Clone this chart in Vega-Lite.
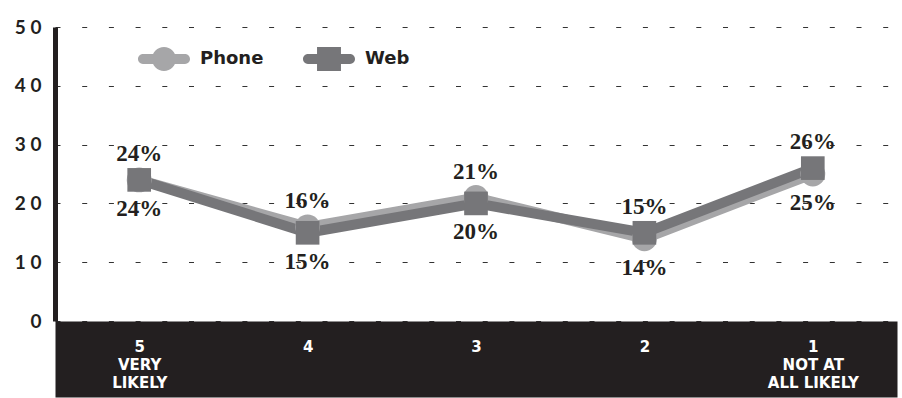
{
  "$schema": "https://vega.github.io/schema/vega-lite/v6.json",
  "width": 842,
  "height": 294,
  "autosize": "none",
  "padding": {"left": 55, "top": 27, "right": 5, "bottom": 77},
  "background": "white",
  "config": {"view": {"stroke": null}},
  "resolve": {"axis": {"x": "independent"}},
  "data": {
    "values": [
      {"rating": "5|VERY|LIKELY", "series": "Phone", "value": 24},
      {"rating": "4", "series": "Phone", "value": 16},
      {"rating": "3", "series": "Phone", "value": 21},
      {"rating": "2", "series": "Phone", "value": 14},
      {"rating": "1|NOT AT|ALL LIKELY", "series": "Phone", "value": 25},
      {"rating": "5|VERY|LIKELY", "series": "Web", "value": 24},
      {"rating": "4", "series": "Web", "value": 15},
      {"rating": "3", "series": "Web", "value": 20},
      {"rating": "2", "series": "Web", "value": 15},
      {"rating": "1|NOT AT|ALL LIKELY", "series": "Web", "value": 26}
    ]
  },
  "encoding": {
    "x": {
      "field": "rating",
      "type": "nominal",
      "sort": null,
      "scale": {"type": "point", "padding": 0.5},
      "axis": null
    },
    "y": {
      "field": "value",
      "type": "quantitative",
      "scale": {"domain": [0, 50], "nice": false},
      "axis": {
        "title": null,
        "values": [0, 10, 20, 30, 40, 50],
        "ticks": false,
        "domainColor": "#231f20",
        "domainWidth": 5,
        "grid": true,
        "gridColor": "#333333",
        "gridDash": [5, 21.7],
        "gridWidth": 1.2,
        "labelFont": "Lato",
        "labelFontWeight": "bold",
        "labelFontSize": 19,
        "labelColor": "#231f20",
        "labelPadding": 14,
        "labelExpr": "length(datum.label) == 2 ? substring(datum.label, 0, 1) + ' ' + substring(datum.label, 1) : datum.label"
      }
    }
  },
  "layer": [
    {
      "mark": {"type": "line", "strokeWidth": 10, "strokeJoin": "miter"},
      "encoding": {
        "x": {
          "field": "rating",
          "type": "nominal",
          "sort": null,
          "scale": {"type": "point", "padding": 0.5},
          "axis": {
            "orient": "bottom",
            "title": null,
            "labels": false,
            "ticks": false,
            "grid": false,
            "domainColor": "#231f20",
            "domainWidth": 76,
            "domainCap": "butt",
            "offset": 38,
            "zindex": 0
          }
        },
        "color": {
          "field": "series",
          "type": "nominal",
          "scale": {"domain": ["Phone", "Web"], "range": ["#a6a6a8", "#767679"]},
          "legend": {
            "orient": "none",
            "legendX": 83,
            "legendY": 6,
            "direction": "horizontal",
            "title": null,
            "symbolSize": 2704,
            "symbolStrokeWidth": 0,
            "symbolOpacity": 1,
            "labelFont": "DejaVu Sans",
            "labelFontWeight": "bold",
            "labelFontSize": 18,
            "labelColor": "#231f20",
            "labelOffset": 10,
            "columnPadding": 38,
            "encode": {
              "symbols": {
                "update": {
                  "shape": {"signal": "datum.value === 'Phone' ? 'M-0.81,-0.19H0.81A0.19,0.19,0,0,1,0.81,0.19H-0.81A0.19,0.19,0,0,1,-0.81,-0.19Z M-0.46,0A0.46,0.46,0,1,1,0.46,0A0.46,0.46,0,1,1,-0.46,0Z' : 'M-0.81,-0.19H0.81A0.19,0.19,0,0,1,0.81,0.19H-0.81A0.19,0.19,0,0,1,-0.81,-0.19Z M-0.46,-0.46H0.46V0.46H-0.46Z'"},
                  "fill": {"signal": "datum.value === 'Phone' ? '#a6a6a8' : '#767679'"},
                  "stroke": {"value": "transparent"},
                  "strokeWidth": {"value": 0},
                  "size": {"value": 2704},
                  "opacity": {"value": 1},
                  "fillOpacity": {"value": 1}
                }
              }
            }
          }
        }
      }
    },
    {
      "transform": [{"filter": "datum.series == 'Phone'"}],
      "mark": {"type": "point", "shape": "circle", "filled": true, "size": 620, "opacity": 1},
      "encoding": {"color": {"field": "series", "type": "nominal"}}
    },
    {
      "transform": [{"filter": "datum.series == 'Web'"}],
      "mark": {"type": "point", "shape": "square", "filled": true, "size": 560, "opacity": 1},
      "encoding": {"color": {"field": "series", "type": "nominal"}}
    },
    {
      "transform": [
        {"joinaggregate": [{"op": "max", "field": "value", "as": "maxv"}, {"op": "min", "field": "value", "as": "minv"}], "groupby": ["rating"]},
        {"filter": "datum.value == datum.maxv && (datum.series == 'Phone' || datum.minv != datum.maxv)"},
        {"calculate": "datum.value + '%'", "as": "lbl"}
      ],
      "mark": {"type": "text", "font": "Liberation Serif, DejaVu Serif, serif", "fontWeight": "bold", "fontSize": 23, "dy": -26, "color": "#231f20", "baseline": "middle"},
      "encoding": {
        "x": {
          "field": "rating",
          "type": "nominal",
          "sort": null,
          "scale": {"type": "point", "padding": 0.5},
          "axis": {
            "orient": "bottom",
            "title": null,
            "domain": false,
            "ticks": false,
            "grid": false,
            "zindex": 1,
            "labelAngle": 0,
            "labelColor": "white",
            "labelFont": "DejaVu Sans",
            "labelFontWeight": "bold",
            "labelFontSize": 15,
            "labelLineHeight": 18,
            "labelBaseline": "top",
            "labelPadding": 18,
            "labelOverlap": false,
            "labelExpr": "split(datum.label, '|')"
          }
        },
        "text": {"field": "lbl"}
      }
    },
    {
      "transform": [
        {"joinaggregate": [{"op": "max", "field": "value", "as": "maxv"}, {"op": "min", "field": "value", "as": "minv"}], "groupby": ["rating"]},
        {"filter": "!(datum.value == datum.maxv && (datum.series == 'Phone' || datum.minv != datum.maxv))"},
        {"calculate": "datum.value + '%'", "as": "lbl"}
      ],
      "mark": {"type": "text", "font": "Liberation Serif, DejaVu Serif, serif", "fontWeight": "bold", "fontSize": 23, "dy": 29, "color": "#231f20", "baseline": "middle"},
      "encoding": {"text": {"field": "lbl"}}
    }
  ]
}
